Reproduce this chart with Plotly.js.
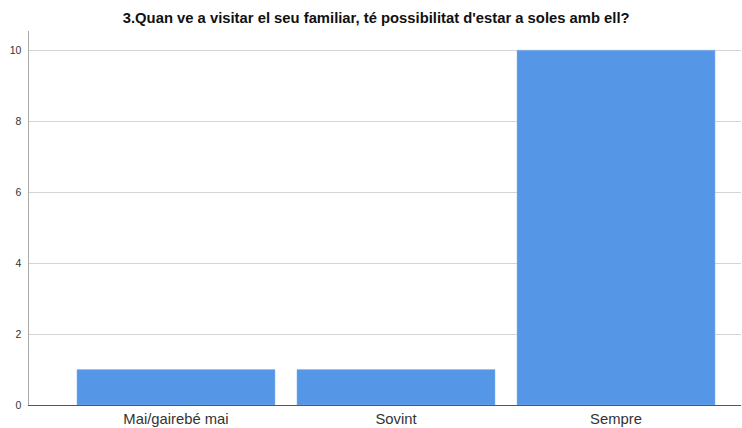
<!DOCTYPE html>
<html>
<head>
<meta charset="utf-8">
<script src="https://cdn.plot.ly/plotly-3.0.1.min.js"></script>
<style>html,body{margin:0;padding:0;background:#fff;}#chart{width:742px;height:428px;}</style>
</head>
<body>
<div id="chart"></div>
<script>
const categories = ["Mai/gairebé mai", "Sovint", "Sempre"];
const counts = [1, 1, 10];
const yTicks = [0, 2, 4, 6, 8, 10];
const chartTitle = "3.Quan ve a visitar el seu familiar, té possibilitat d'estar a soles amb ell?";

const trace = {
  type: "bar",
  x: categories,
  y: counts,
  marker: { color: "#5597e6", line: { color: "#8fb9ee", width: 0.5 } },
  hoverinfo: "x+y"
};

const layout = {
  width: 742,
  height: 428,
  margin: { l: 29, r: 1, t: 31, b: 23, pad: 0 },
  paper_bgcolor: "#ffffff",
  plot_bgcolor: "#ffffff",
  bargap: 0.1,
  showlegend: false,
  font: { family: "Liberation Sans, Arial, sans-serif", color: "#222" },
  title: {
    text: "<b>" + chartTitle + "</b>",
    x: 0.507,
    xanchor: "center",
    y: 0.958,
    yanchor: "middle",
    font: { size: 14.8, color: "#111", family: "Liberation Sans, Arial, sans-serif" }
  },
  xaxis: {
    type: "category",
    range: [-0.668, 2.568],
    showgrid: false,
    showline: true,
    linecolor: "#555",
    linewidth: 1,
    ticks: "",
    tickfont: { size: 14.8, color: "#333" },
    zeroline: false
  },
  yaxis: {
    range: [0, 10.54],
    tickvals: yTicks,
    ticktext: yTicks.map(String),
    showgrid: true,
    gridcolor: "#d4d4d4",
    gridwidth: 1,
    showline: true,
    linecolor: "#aaaaaa",
    linewidth: 1.5,
    ticks: "",
    ticklabelstandoff: 4,
    tickfont: { size: 10.5, color: "#333" },
    zeroline: false
  }
};

Plotly.newPlot("chart", [trace], layout, { displayModeBar: false, staticPlot: true });
</script>
</body>
</html>
